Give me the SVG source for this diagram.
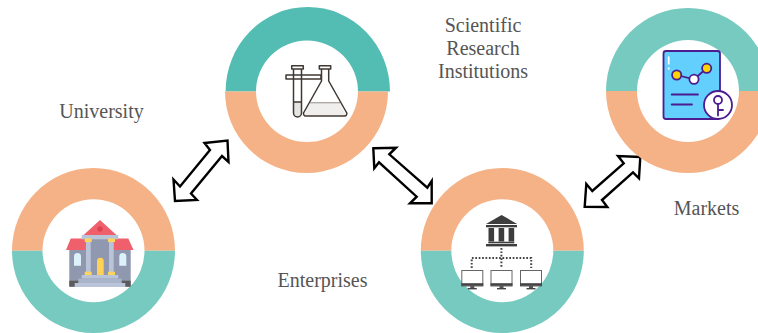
<svg xmlns="http://www.w3.org/2000/svg" width="758" height="333" viewBox="0 0 758 333">
<style>
.o{fill:#F5B286}.t{fill:#76CAC0}.t2{fill:#54BDB3}
.lb{font-family:"Liberation Serif","Times New Roman",serif;font-size:20px;fill:#555;text-anchor:middle}
.ar{fill:#fff;stroke:#000;stroke-width:2.4;stroke-linejoin:miter;stroke-miterlimit:6}
.ln{fill:none;stroke:#3f3833;stroke-width:1.5;stroke-linejoin:round;stroke-linecap:round}
.pu{stroke:#4B1D91;stroke-width:1.8;stroke-linecap:round;stroke-linejoin:round}
.dk{fill:#3d3d3d}
.dot{fill:none;stroke:#444;stroke-width:2;stroke-dasharray:1.7 1.7}
</style>
<defs>
<g id="monitor">
<rect x="0.5" y="0.5" width="21" height="15.5" fill="#fff" stroke="#666" stroke-width="1"/>
<rect x="0" y="13.2" width="22" height="2.6" fill="#444"/>
<rect x="9" y="16" width="4" height="2.5" fill="#555"/>
<rect x="6.5" y="18" width="9" height="1.4" fill="#444"/>
</g>
</defs>
<rect width="758" height="333" fill="#fff"/>
<g id="connectors">
<polygon class="ar" points="227.5,140.5 228.5,162 222,156 191,193.5 197,200 175,201 173.5,179.5 180,186.5 210,150 204.5,143"/>
<polygon class="ar" points="373.3,148.3 396,147.7 389.3,154.3 427.3,187.7 431.7,181 431.7,203.3 410,203.3 416.7,196.7 379,162.3 374.3,168.3"/>
<polygon class="ar" points="640.3,157 639,178.3 633,172.3 602,200 607.3,207 584.7,206.7 586.3,184 592.3,191 623.7,163.3 618,156"/>
</g>
<g id="university">
<path class="o" d="M12 250.7A81.5 82.7 0 0 1 175 250.7L144.5 250.7A51 51.5 0 0 0 42.5 250.7Z"/>
<path class="t" d="M12 250.7A81.5 82.3 0 0 0 175 250.7L144.5 250.7A51 51.5 0 0 1 42.5 250.7Z"/>
<rect x="69.3" y="249" width="61.4" height="37.7" fill="#8F98AE"/>
<rect x="85" y="239" width="30" height="40" fill="#8F98AE"/>
<polygon points="70.7,238.5 85.7,238.5 85.7,250 66,250" fill="#F0606C"/>
<polygon points="113.3,238.5 128.3,238.5 133.5,250 113.3,250" fill="#F0606C"/>
<polygon points="100,220 83.3,235.2 116.7,235.2" fill="#F0606C"/>
<circle cx="100" cy="229" r="2.7" fill="#DC4350"/>
<rect x="81.7" y="235" width="36.6" height="4.3" fill="#BAC4D9"/>
<rect x="86" y="240" width="4.7" height="33" fill="#BAC4D9"/>
<rect x="109" y="240" width="4.7" height="33" fill="#BAC4D9"/>
<rect x="84.7" y="238.5" width="7" height="3.5" fill="#FFD45C"/>
<rect x="108" y="238.5" width="7" height="3.5" fill="#FFD45C"/>
<rect x="84.7" y="271.7" width="7" height="3.6" fill="#FFD45C"/>
<rect x="108" y="271.7" width="7" height="3.6" fill="#FFD45C"/>
<path d="M97 275V261a3.35 3.35 0 0 1 6.7 0V275Z" fill="#FFD155"/>
<path d="M74 265.7V256.5a3.5 3.5 0 0 1 7 0V265.7Z" fill="#DDF1FB"/>
<path d="M119.3 265.7V256.5a3.5 3.5 0 0 1 7 0V265.7Z" fill="#DDF1FB"/>
<rect x="69.3" y="280.7" width="61.4" height="6" fill="#5c5c5c"/>
<rect x="81.7" y="275" width="36.6" height="3.6" fill="#BAC4D9"/>
<rect x="78.3" y="278.6" width="43.4" height="4.4" fill="#A9B3CA"/>
<rect x="74.7" y="283" width="50.6" height="4" fill="#BAC4D9"/>
<text class="lb" x="101.5" y="118">University</text>
</g>
<g id="institutions">
<path class="t2" d="M225.6 91.5A82.2 84.5 0 0 1 390 91.5L358 91.5A51 51 0 0 0 256 91.5Z"/>
<path class="o" d="M225 91.5A81.5 81.5 0 0 0 388 91.5L358 91.5A51 50.5 0 0 1 256 91.5Z"/>
<rect x="294" y="102" width="7" height="14" fill="#e6e4e2"/>
<polygon points="310,103 340,103 346,115.5 304,115.5" fill="#f0efee"/>
<path class="ln" d="M293.5 69V113a4 4 0 0 0 8 0V69M291.7 65.7H303.3V69H291.7ZM286 75H321V79H286ZM293.5 102H301.5"/>
<path class="ln" d="M319.3 65.7H330.7V69H319.3ZM321.5 69V81L303.8 112.5a2.3 2.3 0 0 0 2 3.5H344.5a2.3 2.3 0 0 0 2 -3.5L328.7 81V69Z"/>
<path d="M310 102.7H340" stroke="#a9a5a2" stroke-width="1.3" fill="none"/>
<text class="lb" x="483" y="32">Scientific</text>
<text class="lb" x="483" y="55">Research</text>
<text class="lb" x="483" y="78">Institutions</text>
</g>
<g id="enterprises">
<path class="o" d="M420.8 250.7A81.5 82.7 0 0 1 583.8 250.7L553.3 250.7A51 51.5 0 0 0 451.3 250.7Z"/>
<path class="t" d="M420.8 250.7A81.5 82.3 0 0 0 583.8 250.7L553.3 250.7A51 51.5 0 0 1 451.3 250.7Z"/>
<polygon class="dk" points="501.6,215 486,224 517.2,224"/>
<rect class="dk" x="486" y="225" width="31" height="2.3"/>
<rect class="dk" x="488.5" y="228" width="5.6" height="13.5"/>
<rect class="dk" x="498.6" y="228" width="5.6" height="13.5"/>
<rect class="dk" x="508.6" y="228" width="5.6" height="13.5"/>
<rect class="dk" x="488.3" y="241.7" width="26" height="1.6"/>
<rect class="dk" x="486" y="244" width="31" height="2.4"/>
<path class="dot" d="M501.4 248V268M471.7 268V258H531.2V268"/>
<use href="#monitor" x="461.3" y="270"/>
<use href="#monitor" x="490.5" y="270"/>
<use href="#monitor" x="520" y="270"/>
<text class="lb" x="322.5" y="287">Enterprises</text>
</g>
<g id="markets">
<path class="t" d="M606 91A82 83 0 0 1 770 91L739 91A51 51 0 0 0 637 91Z"/>
<path class="o" d="M606 91A82 82 0 0 0 770 91L739 91A51 51 0 0 1 637 91Z"/>
<rect class="pu" x="663.5" y="51" width="56.5" height="68" rx="2.5" fill="#62CFFC"/>
<path d="M668.7 56.5V64.5M668.7 67.5V69.5" stroke="#fff" stroke-width="1.8" fill="none"/>
<path class="pu" d="M676.7 75L694 79.3L706.7 68.3" fill="none"/>
<circle class="pu" cx="676.7" cy="75" r="4.6" fill="#FFD400"/>
<circle class="pu" cx="694" cy="79.3" r="4.6" fill="#fff"/>
<circle class="pu" cx="706.7" cy="68.3" r="4.6" fill="#FFD400"/>
<path class="pu" d="M671.7 94.5H698M671.7 104.5H692" fill="none"/>
<circle class="pu" cx="718" cy="105" r="14" fill="#fff"/>
<circle class="pu" cx="718" cy="100" r="4" fill="#fff"/>
<path class="pu" d="M718 104V115.5M718 110H723" fill="none"/>
<text class="lb" x="706.5" y="215">Markets</text>
</g>
</svg>
